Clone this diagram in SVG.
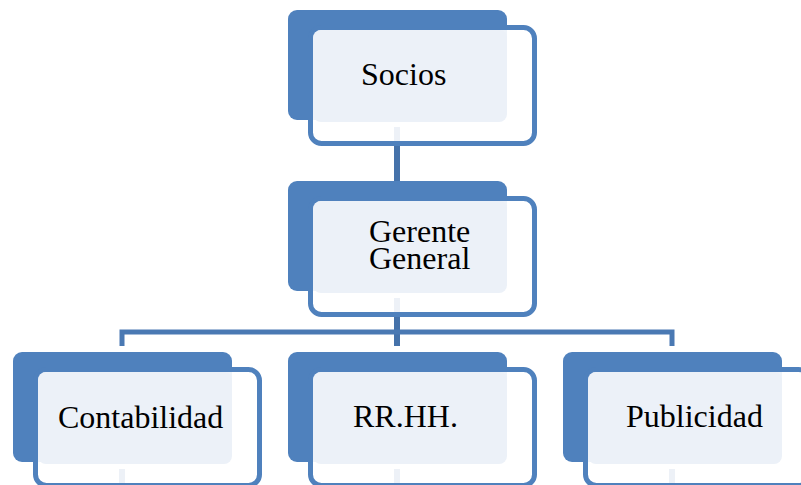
<svg xmlns="http://www.w3.org/2000/svg" width="801" height="485" viewBox="0 0 801 485">
  <style>
    .back { fill: #4F81BD; }
    .frame { fill: #FFFFFF; fill-opacity: 0.9; stroke: #4F81BD; stroke-width: 5; }
    .panel { fill: #ECF1F8; }
    .link { fill: none; stroke: #4572AA; stroke-width: 6; }
    .hbar { fill: none; stroke: #4A79B3; stroke-width: 5; stroke-linejoin: miter; }
    .label { font-family: "Liberation Serif", "Times New Roman", serif; font-size: 32px; fill: #000000; }
  </style>
  <defs>
    <!-- one org-chart card: dark backing tab, outlined frame, light text panel -->
    <g id="card">
      <rect class="back" x="0" y="0" width="219" height="110" rx="9"/>
      <rect class="frame" x="22.5" y="17.5" width="224" height="116" rx="11"/>
      <rect class="panel" x="25" y="20" width="194" height="92" rx="8"/>
    </g>
  </defs>
  <rect width="801" height="485" fill="#FFFFFF"/>

  <g id="connectors">
    <line class="link" x1="397" y1="127" x2="397" y2="181"/>
    <line class="link" x1="397" y1="298" x2="397" y2="346"/>
    <path class="hbar" d="M122,346 V332 H672 V346"/>
    <line class="link" x1="122" y1="469" x2="122" y2="485"/>
    <line class="link" x1="397" y1="469" x2="397" y2="485"/>
    <line class="link" x1="672" y1="469" x2="672" y2="485"/>
  </g>

  <g id="socios">
    <use href="#card" x="288" y="10"/>
    <text class="label" x="361" y="85">Socios</text>
  </g>

  <g id="gerente-general">
    <use href="#card" x="288" y="181"/>
    <text class="label" x="369" y="242">Gerente</text>
    <text class="label" x="369" y="269">General</text>
  </g>

  <g id="contabilidad">
    <use href="#card" x="13" y="352"/>
    <text class="label" x="58" y="428">Contabilidad</text>
  </g>

  <g id="rrhh">
    <use href="#card" x="288" y="352"/>
    <text class="label" x="353" y="427">RR.HH.</text>
  </g>

  <g id="publicidad">
    <use href="#card" x="563" y="352"/>
    <text class="label" x="626" y="427">Publicidad</text>
  </g>
</svg>
